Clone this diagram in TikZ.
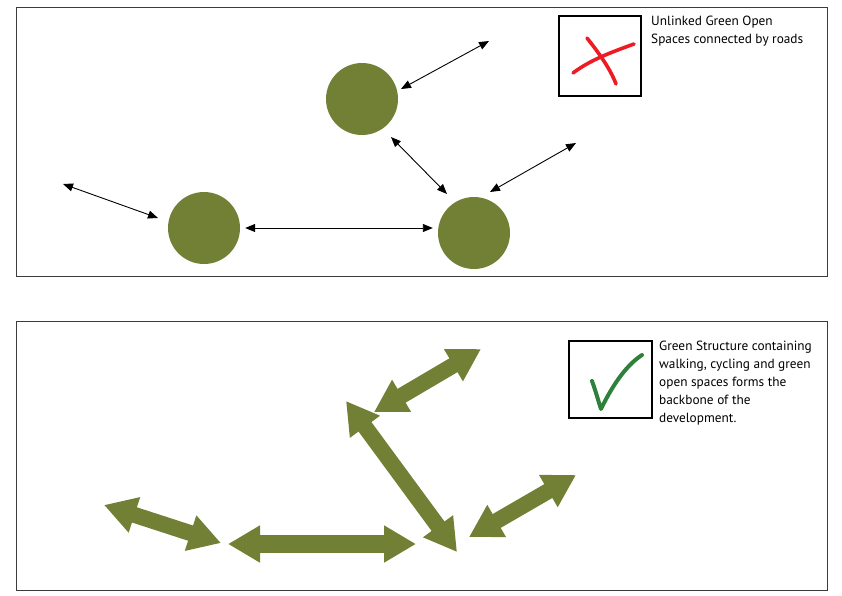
\documentclass[tikz,border=0pt]{standalone}
\usepackage{fontspec}
\setmainfont{PT Sans}
\usetikzlibrary{arrows.meta}
\definecolor{olive}{RGB}{114,128,53}
\definecolor{crossred}{RGB}{237,28,36}
\definecolor{tickgreen}{RGB}{46,128,58}
\definecolor{panelgray}{RGB}{60,60,60}
\tikzset{
  panel/.style={draw=panelgray, line width=0.9pt},
  markbox/.style={draw=black, line width=2.8pt},
  park/.style={circle, fill=olive, minimum size=72pt, inner sep=0pt},
  road/.style={line width=0.9pt, {Triangle[length=10pt,width=8pt]}-{Triangle[length=10pt,width=8pt]}},
  greenway/.style={draw=olive, line width=16pt, {Triangle[length=32pt,width=35pt]}-{Triangle[length=32pt,width=35pt]}},
  note/.style={anchor=north west, inner sep=0pt, align=left, font=\fontsize{13.3}{18}\selectfont}
}
\begin{document}
\begin{tikzpicture}[x=1pt,y=-1pt]
\useasboundingbox (0,0) rectangle (842,595);
% panels
\draw[panel] (16,7) rectangle (827,276);
\draw[panel] (16,321) rectangle (827,590);
% top: parks and roads
\node[park] (c1) at (362,99) {};
\node[park] (c2) at (204,228) {};
\node[park] (c3) at (474,233) {};
\coordinate (e1) at (489,41);
\coordinate (s1) at (401,89);
\coordinate (e3) at (576,143);
\coordinate (s3) at (490,192);
\coordinate (e4) at (63,184);
\coordinate (s4) at (158,218);
\coordinate (a2) at (391,137);
\coordinate (b2) at (447,194);
\draw[road] (s1) -- (e1);
\draw[road] (a2) -- (b2);
\draw[road] (s3) -- (e3);
\draw[road] (e4) -- (s4);
\draw[road, shorten <=5pt, shorten >=5pt] (c2.east) -- (c3.west |- c2.east);
% top legend
\draw[markbox] (559,16) rectangle (641,96);
\draw[crossred, line width=3.6pt, line cap=round] (573,73) .. controls (590,60) and (612,52) .. (634,44);
\draw[crossred, line width=3.6pt, line cap=round] (587,38) .. controls (598,52) and (610,68) .. (616,84);
\node[note] (t1) at (651,16) {Unlinked Green Open\\Spaces connected by roads};
% bottom: green structure
\coordinate (g1a) at (104,505);
\coordinate (g1b) at (221,543);
\coordinate (g2a) at (228,544);
\coordinate (g2b) at (416,544);
\coordinate (g3a) at (346,401);
\coordinate (g3b) at (457,552);
\coordinate (g4a) at (374,412);
\coordinate (g4b) at (481,349);
\coordinate (g5a) at (469,537);
\coordinate (g5b) at (576,475);
\draw[greenway] (g1a) -- (g1b);
\draw[greenway, line width=18pt] (g2a) -- (g2b);
\draw[greenway] (g3a) -- (g3b);
\draw[greenway] (g4a) -- (g4b);
\draw[greenway] (g5a) -- (g5b);
% bottom legend
\draw[markbox] (569,341) rectangle (652,418);
\draw[tickgreen, line width=4pt, line cap=round, line join=round] (592,381) .. controls (596,392) and (598,400) .. (601,409) .. controls (614,382) and (628,364) .. (642,355);
\node[note] (t2) at (659,341) {Green Structure containing\\walking, cycling and green\\open spaces forms the\\backbone of the\\development.};
\end{tikzpicture}
\end{document}
